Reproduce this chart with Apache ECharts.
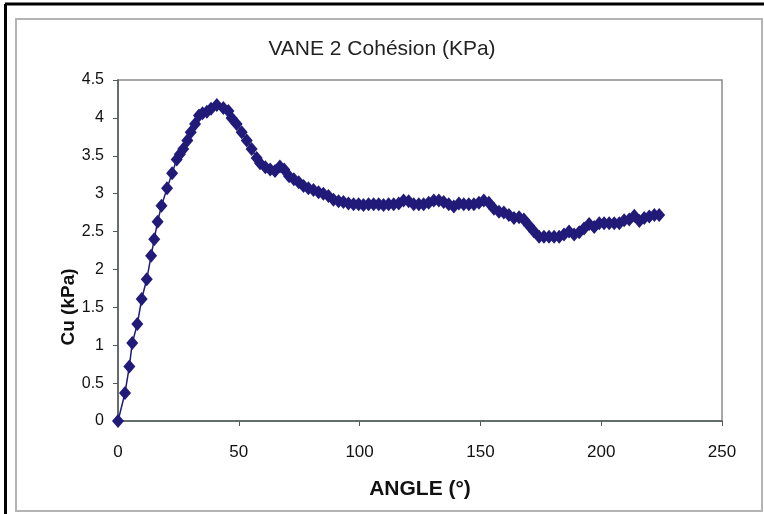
<!DOCTYPE html>
<html>
<head>
<meta charset="utf-8">
<script src="https://cdn.jsdelivr.net/npm/echarts@6/dist/echarts.min.js"></script>
<style>
  html, body { margin: 0; padding: 0; background: #fff; }
  #chart { width: 764px; height: 514px; }
</style>
</head>
<body>
<div id="chart"></div>
<script>
// Vane shear test 2: undrained cohesion vs rotation angle
const title = 'VANE 2 Cohésion (KPa)';
const xName = 'ANGLE (°)';
const yName = 'Cu (kPa)';

const angle = [
  0, 2.9, 4.7, 5.9, 8.0, 9.8, 11.9, 13.7, 15.0, 16.4, 18.0, 20.3, 22.4, 24.3, 25.6,
  27.0, 28.7, 30.1, 31.9, 33.5, 35.0, 36.8, 38.5, 40.9, 43.6, 45.7, 47.0, 49.1, 51.2,
  53.3, 55.3, 57.4, 58.8, 61.0, 63.0, 65.0, 67.0, 68.8, 70.8, 72.8, 74.8, 76.8, 78.8,
  80.9, 83.0, 85.0, 87.1, 89.2, 91.3, 93.3, 95.4, 97.5, 99.6, 101.6, 103.7, 105.8,
  107.9, 109.9, 112.0, 114.1, 116.2, 118.2, 120.3, 122.4, 124.5, 126.5, 128.6, 130.7,
  132.8, 134.8, 136.9, 139.0, 141.1, 143.1, 145.2, 147.3, 149.4, 151.4, 153.5, 155.6,
  157.7, 159.7, 161.8, 163.9, 166.0, 168.0, 170.1, 172.2, 174.3, 176.3, 178.4, 180.5,
  182.6, 184.6, 186.7, 188.8, 190.9, 192.9, 195.0, 197.1, 199.2, 201.2, 203.3, 205.4,
  207.5, 209.5, 211.6, 213.7, 215.8, 217.8, 219.9, 222.0, 224.0
];

const cu = [
  0, 0.37, 0.72, 1.03, 1.28, 1.61, 1.87, 2.18, 2.40, 2.63, 2.84, 3.07, 3.27, 3.45, 3.52,
  3.59, 3.70, 3.81, 3.92, 4.03, 4.06, 4.08, 4.12, 4.17, 4.13, 4.09, 4.00, 3.92, 3.81,
  3.70, 3.59, 3.47, 3.40, 3.35, 3.32, 3.30, 3.36, 3.32, 3.23, 3.19, 3.15, 3.10, 3.07,
  3.05, 3.02, 3.00, 2.97, 2.92, 2.90, 2.89, 2.87, 2.86, 2.86, 2.85, 2.86, 2.86,
  2.86, 2.85, 2.86, 2.86, 2.87, 2.91, 2.90, 2.86, 2.86, 2.86, 2.88, 2.91,
  2.91, 2.89, 2.86, 2.83, 2.87, 2.86, 2.86, 2.86, 2.88, 2.91, 2.88, 2.80,
  2.76, 2.75, 2.72, 2.68, 2.69, 2.66, 2.58, 2.50, 2.43, 2.43, 2.43, 2.43,
  2.43, 2.46, 2.50, 2.46, 2.49, 2.54, 2.60, 2.56, 2.61, 2.61, 2.61, 2.61,
  2.61, 2.65, 2.66, 2.71, 2.64, 2.68, 2.70, 2.72, 2.72
];

const xTicks = { min: 0, max: 250, interval: 50 };
const yTicks = { min: 0, max: 4.5, interval: 0.5 };

const points = angle.map((a, i) => [a, cu[i]]);
const font = "'Liberation Sans', Arial, sans-serif";
const ink = '#211a78';
const axisColor = '#505a5a';

const chart = echarts.init(document.getElementById('chart'), null, { renderer: 'canvas' });
chart.setOption({
  backgroundColor: '#fff',
  animation: false,
  title: {
    text: title,
    left: 'center',
    top: 34,
    textStyle: { fontFamily: font, fontSize: 21, fontWeight: 'normal', color: '#222' }
  },
  graphic: [
    { type: 'rect', shape: { x: 16, y: 19, width: 746, height: 492 },
      style: { fill: 'none', stroke: '#b4b4b4', lineWidth: 2 } },
    { type: 'line', shape: { x1: 5, y1: 4, x2: 764, y2: 4 },
      style: { stroke: '#000', lineWidth: 3 } },
    { type: 'line', shape: { x1: 5.5, y1: 4, x2: 5.5, y2: 514 },
      style: { stroke: '#000', lineWidth: 3 } },
    // y-axis title, set lower than the axis midpoint
    { type: 'text', x: 69, y: 307, rotation: Math.PI / 2,
      style: { text: yName, fontFamily: font, fontSize: 19, fontWeight: 'bold',
               fill: '#111', align: 'center', verticalAlign: 'middle' } }
  ],
  grid: {
    left: 118, right: 42, top: 80, bottom: 93,
    show: true, borderColor: '#8a8a8a', borderWidth: 1.5, backgroundColor: '#fff'
  },
  xAxis: {
    type: 'value',
    min: xTicks.min, max: xTicks.max, interval: xTicks.interval,
    name: xName, nameLocation: 'middle', nameGap: 58,
    nameTextStyle: { fontFamily: font, fontSize: 21, fontWeight: 'bold', color: '#111' },
    axisLine: { show: true, lineStyle: { color: axisColor, width: 1.5 } },
    axisTick: { show: true, length: 5, inside: false, lineStyle: { color: axisColor } },
    axisLabel: { margin: 23, fontFamily: font, fontSize: 17, color: '#111' },
    splitLine: { show: false }
  },
  yAxis: {
    type: 'value',
    min: yTicks.min, max: yTicks.max, interval: yTicks.interval,
    axisLine: { show: true, lineStyle: { color: axisColor, width: 1.5 } },
    axisTick: { show: true, length: 5, inside: false, lineStyle: { color: axisColor } },
    axisLabel: { margin: 14, fontFamily: font, fontSize: 16, color: '#111' },
    splitLine: { show: false }
  },
  series: [{
    type: 'line',
    data: points,
    symbol: 'diamond',
    symbolSize: [12, 14],
    showAllSymbol: true,
    itemStyle: { color: ink },
    lineStyle: { color: ink, width: 1.5 },
    z: 5
  }]
});
</script>
</body>
</html>
